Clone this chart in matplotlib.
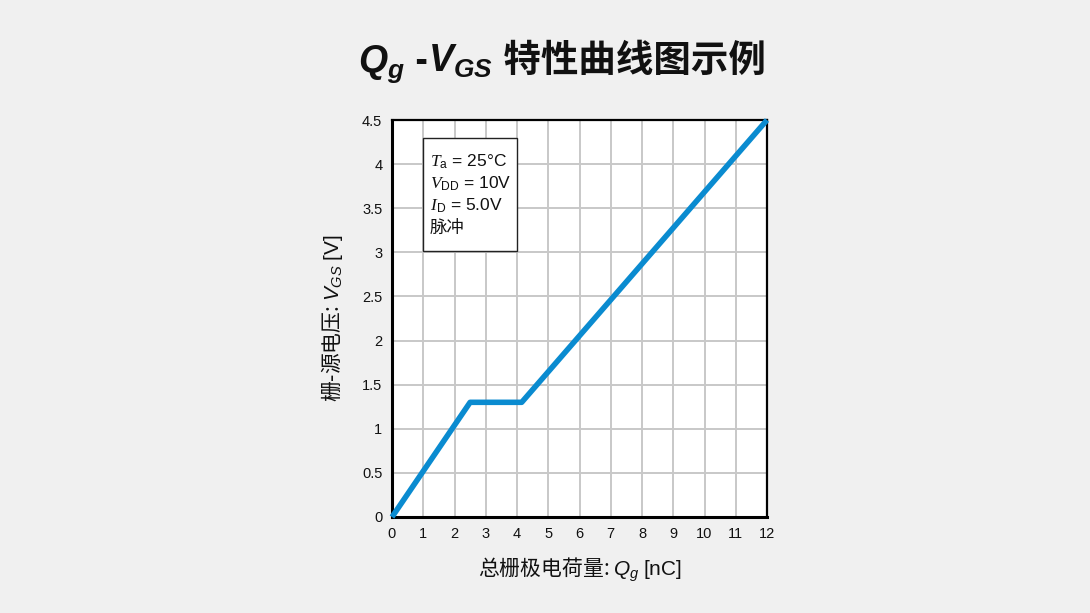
import matplotlib
matplotlib.use("Agg")
import matplotlib.pyplot as plt

# data
qg = [0, 2.5, 4.15, 12]
vgs = [0, 1.3, 1.3, 4.5]
x_ticks = list(range(0, 13))
y_ticks = [0, 0.5, 1, 1.5, 2, 2.5, 3, 3.5, 4, 4.5]
y_tick_labels = ["0", "0.5", "1", "1.5", "2", "2.5", "3", "3.5", "4", "4.5"]
cond_lines = [r"$\mathcal{T}_{\mathrm{a}}$ = 25°C",
              r"$\mathcal{V}_{\mathrm{DD}}$ = 10V",
              r"$\mathcal{I}_{\mathrm{D}}$ = 5.0V",
              "脉冲"]

BG = "#f0f0f0"
BLUE = "#0a8bd0"
CJK = "Noto Sans CJK SC"

plt.rcParams["font.family"] = ["Liberation Sans", CJK]
plt.rcParams["mathtext.fontset"] = "custom"
plt.rcParams["mathtext.rm"] = "Liberation Sans"
plt.rcParams["mathtext.it"] = "Liberation Sans:italic"
plt.rcParams["mathtext.bf"] = "Liberation Sans:bold"
plt.rcParams["mathtext.bfit"] = "Liberation Sans:bold:italic"
plt.rcParams["mathtext.cal"] = "Liberation Serif:italic"
plt.rcParams["mathtext.sf"] = "Liberation Sans"

fig = plt.figure(figsize=(10.9, 6.13), dpi=100, facecolor=BG)
ax = fig.add_axes([392 / 1090, 1 - 517 / 613, 375 / 1090, 397 / 613])
ax.set_facecolor("white")

ax.plot(qg, vgs, color=BLUE, lw=4, solid_capstyle="butt", zorder=3, clip_on=False)

ax.set_xlim(0, 12)
ax.set_ylim(0, 4.5)
ax.set_xticks(x_ticks)
ax.set_yticks(y_ticks)
ax.set_yticklabels(y_tick_labels)
ax.tick_params(length=0, labelsize=10.5, pad=7, colors="#111")
ax.grid(True, color="#c8c8c8", lw=1.4)
ax.set_axisbelow(True)
for side in ["left", "bottom"]:
    ax.spines[side].set_linewidth(2.2)
for side in ["top", "right"]:
    ax.spines[side].set_linewidth(1.6)

# non-math part of a mathtext string uses the text's own font, so give it the CJK one
ax.set_xlabel(r"总栅极电荷量: $Q_g$ $\mathrm{[nC]}$", fontsize=15, labelpad=11,
              color="#111", fontfamily=CJK)
ax.set_ylabel(r"栅-源电压: $V_{GS}$ $\mathrm{[V]}$", fontsize=15, labelpad=12,
              color="#111", fontfamily=CJK)

# conditions box
box = plt.Rectangle((1.0, 3.02), 3.0, 1.28, facecolor="white", edgecolor="#222",
                    lw=1.0, zorder=4)
ax.add_patch(box)
for i, s in enumerate(cond_lines):
    ax.text(1.22, 4.03 - i * 0.25, s, fontsize=12.5, va="center", ha="left",
            zorder=5, color="#111")

# title built from pieces on a common baseline
pieces = [
    (r"$\mathbfit{Q_g}$", {}),
    (" -", {"fontweight": "bold"}),
    (r"$\mathbfit{V_{GS}}$", {}),
    (" 特性曲线图示例", {"fontweight": "bold"}),
]
renderer = fig.canvas.get_renderer()
texts = []
x = 0.0
for s, kw in pieces:
    t = fig.text(x, 1 - 72 / 613, s, fontsize=27, va="baseline", ha="left", color="#111", **kw)
    w = t.get_window_extent(renderer).width / fig.bbox.width
    texts.append((t, x))
    x += w
x0 = 562 / 1090 - x / 2
for t, xi in texts:
    t.set_x(x0 + xi)

fig.savefig("out.png", dpi=100, facecolor=BG)
